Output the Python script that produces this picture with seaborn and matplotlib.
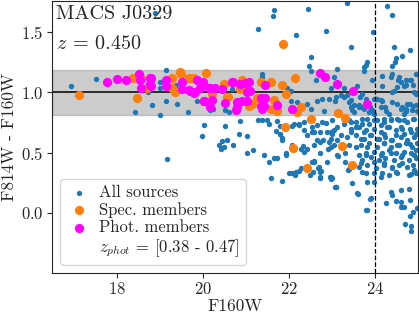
import seaborn as sns
import matplotlib.pyplot as plt

# Colour-magnitude diagram, MACS J0329
sns.set_style("ticks")
plt.rcParams['font.family'] = 'serif'
plt.rcParams['font.serif'] = ['cmr10']
plt.rcParams['mathtext.fontset'] = 'cm'
plt.rcParams['axes.formatter.use_mathtext'] = True
plt.rcParams['axes.unicode_minus'] = False

# all sources (F160W, F814W - F160W)
all_mag = [18.89, 16.94, 17.53, 19.16, 19.02, 19.00, 19.39, 18.73, 18.42, 18.83, 19.15, 19.41, 19.02,
           19.87, 20.03, 19.98, 20.53, 20.51, 20.18, 19.18, 20.39, 20.46, 20.43, 19.66, 20.61, 20.25,
           20.69,
           21.66, 21.63, 22.45, 23.36, 24.28, 24.41, 21.29, 22.16, 22.86, 23.96, 23.46, 24.45, 24.81,
           24.64, 24.50, 24.46, 23.83, 23.79, 23.74, 22.53, 22.47, 22.51, 23.13, 21.39, 21.37, 22.63,
           22.98, 23.28, 23.60, 23.94, 24.18, 24.37, 24.53, 24.72, 24.85, 24.45, 24.91, 24.67, 24.02,
           24.18, 23.79, 23.71, 23.44, 23.28, 23.09, 22.94, 22.78, 22.67, 22.43, 22.20, 22.05, 21.96,
           22.05, 22.51, 22.82, 23.52, 23.87, 24.72, 24.88, 20.77, 20.88, 21.37, 21.50, 21.74, 21.81,
           21.70, 22.08, 22.24, 22.35, 22.67, 22.86, 22.74, 22.98,
           23.75, 24.41, 23.05, 24.18, 24.41, 24.56, 24.83, 24.95, 24.60, 24.52, 24.72, 24.88, 24.41,
           24.95, 23.21, 23.36, 23.66, 23.71, 23.98, 24.06, 23.07, 23.40, 23.52, 23.63, 23.90, 24.14,
           24.52, 24.83, 24.64, 24.72, 24.99, 24.26, 23.98, 23.01, 23.13, 23.28, 23.44, 23.56, 23.71,
           23.83, 23.98, 24.21, 24.37, 24.52, 24.68, 24.88, 24.14, 24.33, 24.60, 24.83, 23.01, 23.21,
           23.44, 23.75, 23.90, 24.21, 24.49, 24.68, 24.95, 23.67, 24.06, 24.37,
           23.05, 23.40, 23.56, 23.83, 24.21, 24.52, 24.83, 23.13, 23.32, 23.63, 23.79, 24.14, 24.37,
           24.64, 24.91, 23.67, 23.98, 24.21, 24.41, 24.64, 24.88, 23.40, 23.71, 23.98, 24.33, 24.14,
           24.52, 24.80, 24.95, 23.01, 23.48, 23.83, 23.98, 23.09, 23.60, 24.37, 24.60, 24.80, 24.41,
           24.60, 24.83, 23.90, 24.26, 24.68, 24.98, 23.81, 24.88, 24.83,
           20.57, 20.70, 20.84, 21.04, 21.04, 21.42, 21.54, 21.66, 21.60, 21.85, 21.84, 21.81, 21.93,
           22.01, 22.08, 22.16, 22.24, 22.34, 22.35, 22.55, 22.70, 22.74, 22.49, 22.73, 22.55, 22.74,
           22.92, 22.93, 23.12, 23.14, 22.98, 23.09, 23.32, 23.38, 23.61, 23.92, 23.80, 24.49, 24.60,
           24.70, 24.85, 24.85, 20.49,
           21.28, 21.54, 21.81, 21.85, 21.89, 22.12, 22.25, 22.35, 22.43, 22.55, 22.59, 22.77, 22.90,
           22.98, 23.05, 22.80, 22.67, 22.59, 22.43, 22.28, 22.08, 21.93, 21.74, 21.18, 22.74, 22.90,
           22.59, 22.98, 22.28,
           22.15, 22.57, 22.69, 22.76, 22.72, 22.59, 22.95, 22.99, 23.07,
           # dense faint end
           23.44, 23.63, 23.75, 24.02, 24.14, 24.25, 24.41, 24.60, 24.76, 24.87, 24.95, 24.68, 24.33,
           23.94, 23.48,
           23.40, 23.56, 23.71, 23.87, 24.06, 24.22, 24.37, 24.56, 24.76, 24.91,
           23.44, 23.63, 23.79, 23.98, 24.14, 24.29, 24.49, 24.64, 24.84, 24.99,
           23.36, 23.56, 23.75, 23.91, 24.10, 24.25, 24.41, 24.60, 24.76, 24.91,
           23.67, 23.87, 24.06, 24.22, 24.37, 24.56, 24.72, 24.87, 24.99,
           23.79, 23.98, 24.18, 24.33, 24.49, 24.68, 24.84, 24.97,
           23.71, 23.91, 24.10, 24.25, 24.45, 24.60, 24.80, 24.95,
           23.63, 23.83, 24.02, 24.22, 24.41, 24.56, 24.76, 24.91,
           23.79, 24.18, 24.49, 24.84]
all_col = [1.66, 1.05, 1.11, 1.19, 1.085, 1.04, 1.065, 1.00, 0.837, 0.892, 0.93, 0.906, 0.81,
           0.93, 0.727, 0.64, 0.72, 0.856, 0.856, 0.446, 0.56, 0.597, 0.534, 0.837, 0.837, 0.865,
           1.03,
           1.686, 1.636, 1.69, 1.74, 1.72, 1.64, 1.526, 1.48, 1.51, 1.50, 1.374, 1.374, 1.35,
           1.30, 1.286, 1.25, 1.25, 1.23, 1.18, 1.297, 1.223, 1.176, 1.195, 1.15, 1.125, 1.10,
           1.04, 1.04, 1.05, 1.10, 1.052, 1.13, 1.105, 1.10, 1.10, 1.01, 1.00, 1.05, 0.947,
           0.93, 0.947, 0.88, 0.88, 0.96, 0.96, 0.947, 0.947, 0.93, 0.906, 0.92, 0.93, 1.04,
           1.016, 0.865, 0.85, 0.837, 0.837, 0.865, 0.884, 0.85, 0.763, 0.768, 0.768, 0.763, 0.72,
           0.68, 0.72, 0.735, 0.686, 0.727, 0.746, 0.672, 0.672,
           1.21, 1.223, 1.126, 1.14, 1.154, 1.126, 1.105, 1.154, 1.085, 1.044, 1.058, 1.058, 1.00,
           0.99, 0.975, 0.975, 0.96, 0.989, 0.947, 0.947, 0.93, 0.92, 0.892, 0.878, 0.878, 0.878,
           0.906, 0.906, 0.878, 0.85, 0.85, 0.85, 0.824, 0.768, 0.713, 0.741, 0.754, 0.713, 0.741,
           0.782, 0.768, 0.782, 0.768, 0.782, 0.768, 0.782, 0.727, 0.713, 0.713, 0.70, 0.658, 0.644,
           0.672, 0.672, 0.644, 0.658, 0.644, 0.658, 0.658, 0.617, 0.617, 0.609,
           0.56, 0.56, 0.548, 0.548, 0.576, 0.56, 0.57, 0.479, 0.493, 0.479, 0.479, 0.479, 0.493,
           0.479, 0.479, 0.41, 0.424, 0.41, 0.382, 0.41, 0.396, 0.36, 0.34, 0.328, 0.314, 0.30,
           0.328, 0.314, 0.328, 0.286, 0.245, 0.258, 0.258, 0.217, 0.162, 0.176, 0.19, 0.20, 0.148,
           0.093, 0.107, 0.113, 0.085, 0.052, 0.04, 0.024, 0.01, -0.03,
           0.603, 0.56, 0.658, 0.636, 0.50, 0.479, 0.424, 0.452, 0.286, 0.266, 0.608, 0.652, 0.479,
           0.328, 0.334, 0.34, 0.347, 0.553, 0.506, 0.424, 0.377, 0.34, 0.314, 0.286, 0.672, 0.589,
           0.534, 0.589, 0.603, 0.473, 0.30, 0.212, 0.424, 0.355, 0.157, 0.12, 0.024, 0.10, 0.047,
           -0.094, -0.113, -0.147, 0.543,
           0.774, 0.741, 0.658, 0.62, 0.713, 0.741, 0.727, 0.754, 0.645, 0.713, 0.672, 0.754, 0.672,
           0.617, 0.686, 0.603, 0.603, 0.56, 0.534, 0.534, 0.567, 0.493, 0.452, 0.52, 0.493, 0.424,
           0.424, 0.548, 0.37,
           0.314, 0.34, 0.369, 0.347, 0.294, 0.43, 0.294, 0.278, 0.212,
           # dense faint end
           0.934, 0.892, 0.865, 0.947, 0.934, 0.879, 0.920, 0.865, 0.906, 0.851, 0.892, 0.823, 0.823,
           0.851, 0.851,
           0.768, 0.755, 0.782, 0.741, 0.768, 0.755, 0.782, 0.768, 0.755, 0.782,
           0.700, 0.713, 0.686, 0.700, 0.672, 0.713, 0.686, 0.700, 0.672, 0.700,
           0.631, 0.644, 0.617, 0.644, 0.617, 0.631, 0.603, 0.631, 0.603, 0.631,
           0.562, 0.576, 0.548, 0.576, 0.548, 0.562, 0.576, 0.548, 0.576,
           0.493, 0.507, 0.493, 0.520, 0.493, 0.507, 0.493, 0.520,
           0.438, 0.465, 0.438, 0.452, 0.438, 0.465, 0.438, 0.452,
           0.383, 0.397, 0.369, 0.397, 0.369, 0.397, 0.383, 0.355,
           0.328, 0.328, 0.336, 0.319]

# spectroscopic members
spec_mag = [17.14, 18.48, 18.39, 18.70, 18.56, 19.28, 19.49, 19.68, 19.80, 20.09, 19.29, 19.35,
            20.22, 20.49, 19.47, 19.70, 20.03, 20.59, 20.87, 20.92, 21.08, 21.87, 22.14, 21.84,
            21.93, 20.94, 21.35, 21.60, 20.57, 21.27, 21.66, 21.15, 21.58, 21.74, 22.28, 22.20,
            22.51, 21.91, 23.14, 23.32, 22.09, 23.23, 23.47, 22.43]
spec_col = [0.98, 0.955, 1.118, 1.035, 1.12, 1.12, 1.154, 1.12, 1.12, 1.16, 1.04, 1.00,
            0.99, 1.066, 1.167, 1.12, 0.93, 0.96, 1.03, 1.10, 0.89, 1.40, 1.12, 1.06,
            0.99, 1.085, 1.085, 1.085, 0.96, 0.95, 0.94, 0.90, 0.865, 0.85, 0.88, 0.84,
            0.782, 0.71, 0.83, 0.79, 0.54, 0.553, 0.399, 0.369]

# photometric members
phot_mag = [17.77, 18.01, 18.23, 18.53, 18.55, 18.58, 18.78, 18.77, 18.81, 18.81, 19.14, 19.16,
            19.53, 19.53, 19.68, 19.82, 19.87, 20.01, 19.95, 20.17, 20.30, 20.46, 20.03, 20.22,
            20.18, 20.51, 19.70, 19.80, 20.15, 20.04, 20.69, 20.88, 20.84, 21.04, 21.04, 20.79,
            21.08, 20.71, 20.99, 21.10, 20.81, 20.92, 20.77, 21.35, 21.45, 21.35, 21.42, 21.46,
            21.72, 21.39, 22.08, 22.74, 22.84, 23.13, 23.50, 23.81]
phot_col = [1.085, 1.11, 1.10, 1.154, 1.107, 1.04, 1.12, 1.07, 1.12, 1.05, 1.10, 1.05,
            1.085, 1.03, 1.02, 1.00, 1.10, 1.09, 1.04, 1.04, 1.035, 1.027, 0.93, 0.94,
            0.88, 0.915, 1.008, 0.997, 1.04, 0.925, 1.085, 1.07, 0.92, 1.00, 0.93, 0.88,
            1.085, 1.09, 1.08, 1.01, 0.92, 0.925, 0.857, 0.956, 0.956, 0.884, 0.884, 1.06,
            0.892, 0.865, 0.865, 1.16, 1.126, 1.07, 1.008, 0.906]

fig, ax = plt.subplots(figsize=(4.19, 3.16), dpi=100)

ax.axhspan(0.81, 1.19, color='0.5', alpha=0.4, zorder=0)
ax.axhline(1.0, color='black', lw=1.1, zorder=1)

sns.scatterplot(x=all_mag, y=all_col, color='#1f77b4', s=15, linewidth=0, ax=ax,
                label='All sources', zorder=2)
sns.scatterplot(x=spec_mag, y=spec_col, color='#ff7f0e', s=44, linewidth=0, ax=ax,
                label='Spec. members', zorder=3)
sns.scatterplot(x=phot_mag, y=phot_col, color='#ff00ff', s=44, linewidth=0, ax=ax,
                label='Phot. members', zorder=4)
ax.plot([], [], ' ', label=r'$z_{phot}$ = [0.38 - 0.47]')

ax.axvline(24.0, color='black', ls='--', lw=0.9, zorder=5)

ax.text(0.012, 0.985, 'MACS J0329', transform=ax.transAxes, fontsize=14.5, va='top')
ax.text(0.012, 0.875, r'$z$ = 0.450', transform=ax.transAxes, fontsize=14.5, va='top')

ax.set_xlim(16.5, 25.0)
ax.set_ylim(-0.5, 1.76)
ax.set_xticks([18, 20, 22, 24])
ax.set_yticks([0.0, 0.5, 1.0, 1.5])
ax.tick_params(labelsize=12, pad=2.5)
ax.set_xlabel('F160W', fontsize=12.5, labelpad=1)
ax.set_ylabel('F814W - F160W', fontsize=12.5, labelpad=3)

ax.legend(loc='lower left', fontsize=12, handletextpad=0.4, labelspacing=0.12,
          borderpad=0.35, handlelength=1.6)

fig.subplots_adjust(left=0.124, right=0.997, top=0.997, bottom=0.136)
fig.savefig('out.png', dpi=100)
